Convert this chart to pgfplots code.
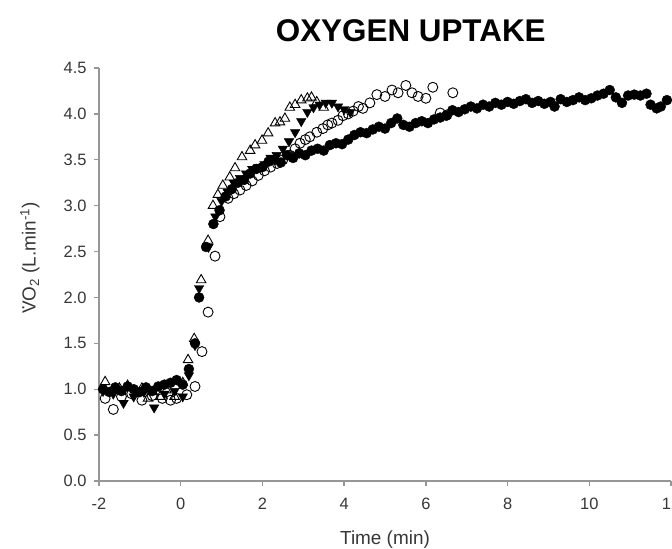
\documentclass[border=0pt]{standalone}
\usepackage{pgfplots}
\pgfplotsset{compat=1.18}
\usepackage{fontspec}
\setmainfont{Liberation Sans}
\definecolor{axgray}{RGB}{150,150,150}
\definecolor{txtgray}{RGB}{55,55,55}
\begin{document}
\begin{tikzpicture}
\begin{axis}[
  scale only axis,
  width=572bp, height=413bp,
  xmin=-2, xmax=12, ymin=0, ymax=4.5,
  axis x line=bottom, axis y line=left,
  axis line style={-, axgray, line width=2.2bp},
  xtick={-2,0,2,4,6,8,10,12},
  ytick={0,0.5,1,1.5,2,2.5,3,3.5,4,4.5},
  tick align=outside,
  major tick length=5bp,
  tick style={axgray, line width=1.4bp},
  /pgf/number format/assume math mode=true,
  ticklabel style={font=\fontsize{16.5}{18}\selectfont, text=txtgray},
  xticklabel style={yshift=-9bp},
  yticklabel style={xshift=-4bp, /pgf/number format/fixed, /pgf/number format/fixed zerofill, /pgf/number format/precision=1},
  title={OXYGEN UPTAKE},
  title style={at={(axis description cs:0.545,1)}, anchor=center, yshift=31bp,
    font=\fontsize{31.5}{34}\selectfont\bfseries},
  xlabel={Time (min)},
  xlabel style={at={(axis description cs:0.5,0)}, anchor=center, yshift=-59bp,
    font=\fontsize{19}{22}\selectfont, text=txtgray},
  ylabel={\rlap{\hspace{0.2em}\raisebox{0.6em}{.}}VO\textsubscript{2} (L.min\textsuperscript{-1})},
  ylabel style={at={(axis description cs:-0.1206,0.54)}, anchor=center,
    font=\fontsize{19}{22}\selectfont, text=txtgray},
]
% filled circles
\addplot[only marks, mark=*, mark size=5bp, mark options={fill=black, draw=black}] coordinates {
(-1.9,1.00) (-1.75,0.97) (-1.6,1.02) (-1.45,0.98) (-1.3,1.03) (-1.15,1.00) (-1.0,0.97)
(-0.85,1.02) (-0.7,0.98) (-0.55,1.03) (-0.4,1.05) (-0.25,1.07) (-0.1,1.10) (0.05,1.05)
(0.2,1.22) (0.35,1.50) (0.45,2.00) (0.62,2.55) (0.8,2.80) (0.95,2.95) (1.1,3.10)
(1.25,3.18) (1.4,3.25) (1.55,3.28) (1.7,3.35) (1.85,3.40) (2.0,3.42) (2.15,3.48)
(2.3,3.50) (2.45,3.47) (2.6,3.55) (2.75,3.52) (2.9,3.57) (3.05,3.55) (3.2,3.60)
(3.35,3.62) (3.5,3.60) (3.65,3.66) (3.8,3.68) (3.95,3.67) (4.1,3.72) (4.25,3.77)
(4.4,3.80) (4.55,3.79) (4.7,3.83) (4.85,3.86) (5.0,3.84) (5.15,3.90) (5.3,3.95)
(5.45,3.88) (5.6,3.86) (5.75,3.90) (5.9,3.92) (6.05,3.90) (6.2,3.94) (6.35,3.96)
(6.5,3.98) (6.65,4.04) (6.8,4.02) (6.95,4.05) (7.1,4.08) (7.25,4.06) (7.4,4.10)
(7.55,4.08) (7.7,4.12) (7.85,4.10) (8.0,4.13) (8.15,4.11) (8.3,4.14) (8.45,4.16)
(8.6,4.12) (8.75,4.14) (8.9,4.11) (9.05,4.13) (9.15,4.08) (9.3,4.16) (9.45,4.13)
(9.6,4.15) (9.75,4.18) (9.9,4.15) (10.05,4.17) (10.2,4.20) (10.35,4.22) (10.5,4.26)
(10.65,4.18) (10.8,4.12) (10.95,4.20) (11.1,4.21) (11.25,4.20) (11.4,4.22) (11.5,4.10)
(11.65,4.06) (11.75,4.08) (11.9,4.15)
};
% filled down triangles
\addplot[only marks, mark=triangle*, mark size=5.5bp, mark options={rotate=180, fill=black, draw=black}] coordinates {
(-1.9,0.98) (-1.65,0.95) (-1.4,0.85) (-1.15,0.92) (-0.9,0.97) (-0.65,0.80) (-0.4,0.95)
(-0.15,0.98) (0.05,0.92) (0.2,1.15) (0.35,1.48) (0.45,2.10) (0.68,2.55) (0.85,2.88)
(1.0,3.05) (1.15,3.15) (1.3,3.25) (1.45,3.30) (1.6,3.35) (1.75,3.40) (1.9,3.42)
(2.05,3.45) (2.2,3.52) (2.35,3.55) (2.5,3.62) (2.65,3.70) (2.8,3.80) (2.95,3.92)
(3.1,4.02) (3.25,4.07) (3.4,4.10) (3.55,4.12) (3.7,4.12) (3.85,4.08) (4.0,4.05) (4.15,4.02)
};
% open circles
\addplot[only marks, mark=o, mark size=5bp, mark options={fill=white, draw=black, line width=0.9bp}] coordinates {
(-1.85,0.90) (-1.65,0.78) (-1.45,0.92) (-1.2,0.95) (-0.95,0.88) (-0.7,0.93) (-0.45,0.90)
(-0.25,0.88) (-0.1,0.90) (0.15,0.94) (0.35,1.03) (0.52,1.41) (0.67,1.84) (0.84,2.45)
(0.96,2.88) (1.16,3.08) (1.3,3.13) (1.45,3.17) (1.6,3.22) (1.75,3.27) (1.9,3.33)
(2.05,3.38) (2.2,3.42) (2.36,3.46) (2.5,3.50) (2.67,3.55) (2.8,3.62) (2.92,3.68)
(3.05,3.72) (3.16,3.75) (3.33,3.80) (3.48,3.84) (3.6,3.88) (3.7,3.90) (3.85,3.93)
(3.97,3.98) (4.1,4.00) (4.22,4.03) (4.35,4.08) (4.46,4.06) (4.63,4.12) (4.8,4.21)
(5.0,4.19) (5.17,4.26) (5.32,4.23) (5.51,4.31) (5.66,4.23) (5.81,4.19) (6.0,4.17)
(6.17,4.29) (6.35,4.01) (6.52,3.99) (6.66,4.23)
};
% open triangles
\addplot[only marks, mark=triangle, mark size=5.5bp, mark options={fill=white, draw=black, line width=0.9bp}] coordinates {
(-1.85,1.08) (-1.5,1.01) (-1.3,1.04) (-1.1,0.95) (-0.95,1.01) (-0.8,0.90) (-0.68,0.97)
(-0.5,0.92) (-0.35,0.99) (-0.15,0.92) (0.05,1.07) (0.18,1.32) (0.33,1.55) (0.5,2.19)
(0.67,2.62) (0.79,3.00) (0.91,3.12) (1.03,3.22) (1.2,3.31) (1.33,3.41) (1.5,3.53)
(1.7,3.60) (1.82,3.66) (1.99,3.71) (2.14,3.79) (2.31,3.90) (2.43,3.91) (2.55,3.95)
(2.67,4.07) (2.8,4.10) (2.95,4.15) (3.1,4.17) (3.2,4.18) (3.33,4.13) (3.5,4.07)
};
\end{axis}
\pgfresetboundingbox
\path (-99bp,-68bp) rectangle (573bp,481bp);
\end{tikzpicture}
\end{document}
